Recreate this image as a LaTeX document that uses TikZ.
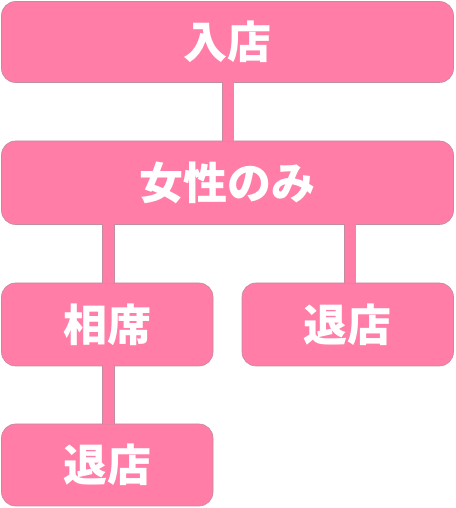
\documentclass[tikz,border=0pt]{standalone}
\usepackage{fontspec}
\newfontfamily\cjk{Noto Sans CJK JP}
\definecolor{boxpink}{HTML}{FF7DA7}
\definecolor{edgecol}{HTML}{C48AA0}
\tikzset{
  x=1pt,y=1pt,
  flowbox/.style={draw=edgecol, line width=0.6pt, fill=boxpink, rounded corners=14pt,
    text=white, font=\cjk\bfseries\fontsize{44}{50}\selectfont, inner sep=0pt, anchor=center},
  wide/.style={minimum width=452pt},
  narrow/.style={minimum width=211.5pt},
  conn/.style={draw=edgecol, line width=0.6pt, double=boxpink, double distance=11pt,
    shorten <=-0.8pt, shorten >=-0.8pt}
}
\begin{document}
\begin{tikzpicture}
\useasboundingbox (0,0) rectangle (455,508);
\node[flowbox, wide, minimum height=81pt] (a) at (227.5,466) {入店};
\node[flowbox, wide, minimum height=83.5pt] (b) at (227.5,325.25) {女性のみ};
\node[flowbox, narrow, minimum height=83pt] (c) at (107.25,183.5) {相席};
\node[flowbox, narrow, minimum height=83pt] (d) at (347.75,183.5) {退店};
\node[flowbox, narrow, minimum height=82pt] (e) at (107.25,43) {退店};
\draw[conn] ([xshift=0.5pt]a.south) -- ([xshift=0.5pt]a.south |- b.north);
\draw[conn] ([xshift=1.25pt]c.north) -- ([xshift=1.25pt]c.north |- b.south);
\draw[conn] ([xshift=2.25pt]d.north) -- ([xshift=2.25pt]d.north |- b.south);
\draw[conn] ([xshift=1.25pt]c.south) -- ([xshift=1.25pt]e.north);
\end{tikzpicture}
\end{document}
